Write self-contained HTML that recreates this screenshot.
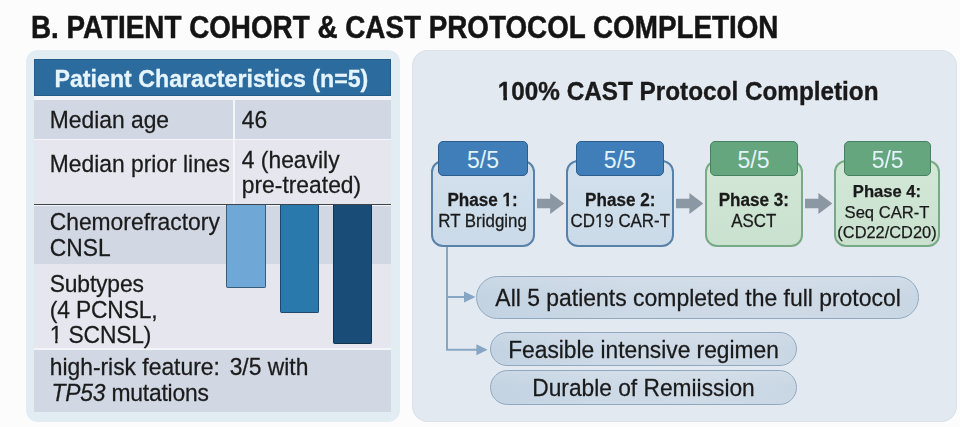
<!DOCTYPE html>
<html><head><meta charset="utf-8"><style>
html,body{margin:0;padding:0;}
body{width:960px;height:427px;overflow:hidden;position:relative;background:#fcfcfc;font-family:"Liberation Sans",sans-serif;}
.t{position:absolute;white-space:nowrap;-webkit-text-stroke:0.25px currentColor;}
.r{position:absolute;}
.o1,.o1b{display:inline-block;line-height:1em;}
.o1{clip-path:polygon(0 0,100% 0,100% 66%,62% 66%,62% 100%,44% 100%,44% 66%,0 66%);}
.o1b{clip-path:polygon(0 0,100% 0,100% 66%,67.5% 66%,67.5% 100%,41% 100%,41% 66%,0 66%);}
#w{position:absolute;left:0;top:0;width:960px;height:427px;filter:blur(0.4px);}
</style></head><body><div id="w">
<div class="t" style="left:31.1px;top:9.60px;font-size:30.5px;line-height:35.07px;font-weight:bold;color:#141414;transform:scaleX(0.912);transform-origin:0 0;white-space:nowrap;-webkit-text-stroke:0.5px #141414;">B. PATIENT COHORT &amp; CAST PROTOCOL COMPLETION</div>
<div class="r" style="left:26px;top:50px;width:373.5px;height:371.6px;background:#e2ecf3;border-radius:12px;"></div>
<div class="r" style="left:33.5px;top:59px;width:357.5px;height:353px;background:#f3f5f8;"></div>
<div class="r" style="left:33.5px;top:59px;width:357.5px;height:36.5px;background:#2c6b9e;box-shadow:inset 0 0 0 1px #245b8a;"></div>
<div class="t" style="left:54.5px;top:66.58px;font-size:23.2px;line-height:25.17px;font-weight:bold;color:#e6f4fb;transform:scaleY(1.06);transform-origin:50% 20.62px;-webkit-text-stroke:0.3px #e6f4fb;">Patient Characteristics (n=5)</div>
<div class="r" style="left:33.5px;top:100px;width:357.5px;height:39px;background:#d1d7e3;"></div>
<div class="r" style="left:33.5px;top:140px;width:357.5px;height:64px;background:#e6e6ef;"></div>
<div class="r" style="left:33.5px;top:205.5px;width:357.5px;height:58.5px;background:#d1d7e3;"></div>
<div class="r" style="left:33.5px;top:264px;width:357.5px;height:84px;background:#e6e6ef;"></div>
<div class="r" style="left:33.5px;top:349.5px;width:357.5px;height:62.5px;background:#d1d7e3;"></div>
<div class="r" style="left:233px;top:100px;width:2px;height:104px;background:#f3f5f8;"></div>
<div class="r" style="left:33.5px;top:203.8px;width:357.5px;height:1.6999999999999886px;background:#3f444c;"></div>
<div class="t" style="left:49.7px;top:107.85px;font-size:22.85px;line-height:25.269px;font-weight:normal;color:#1b1b1b;transform:scaleY(1.04);transform-origin:50% 20.55px;">Median age</div>
<div class="t" style="left:241.8px;top:107.85px;font-size:22.85px;line-height:25.269px;font-weight:normal;color:#1b1b1b;transform:scaleY(1.04);transform-origin:50% 20.55px;">46</div>
<div class="t" style="left:49.7px;top:152.05px;font-size:22.85px;line-height:25.269px;font-weight:normal;color:#1b1b1b;transform:scaleY(1.04);transform-origin:50% 20.55px;">Median prior lines</div>
<div class="t" style="left:241.8px;top:148.22px;font-size:22.85px;line-height:24.327px;font-weight:normal;color:#1b1b1b;transform:scaleY(1.04);transform-origin:50% 20.08px;">4 (heavily<br>pre-treated)</div>
<div class="t" style="left:49.7px;top:209.58px;font-size:22.85px;line-height:25.0px;font-weight:normal;color:#1b1b1b;transform:scaleY(1.04);transform-origin:50% 20.42px;">Chemorefractory<br>CNSL</div>
<div class="t" style="left:49.7px;top:271.82px;font-size:22.85px;line-height:24.519px;font-weight:normal;color:#1b1b1b;transform:scaleY(1.04);transform-origin:50% 20.18px;letter-spacing:-0.15px;">Subtypes<br>(4 PCNSL,<br><span class="o1">1</span> SCNSL)</div>
<div class="t" style="left:49.7px;top:355.28px;font-size:22.85px;line-height:25.0px;font-weight:normal;color:#1b1b1b;transform:scaleY(1.04);transform-origin:50% 20.42px;">high-risk feature:<span style="display:inline-block;width:9.8px"></span>3/5 with<br><span style="margin-left:1.8px;letter-spacing:-0.2px"><i>TP53</i> mutations</span></div>
<div class="r" style="left:226.2px;top:205px;width:39.400000000000034px;height:82.80000000000001px;background:#6fa8d6;border:1.3px solid #395c7c;border-top:none;box-sizing:border-box;border-radius:0 0 2px 2px;"></div>
<div class="r" style="left:280px;top:205px;width:39px;height:108.30000000000001px;background:#2a79ac;border:1.3px solid #21486a;border-top:none;box-sizing:border-box;border-radius:0 0 2px 2px;"></div>
<div class="r" style="left:332.8px;top:205px;width:39.599999999999966px;height:138.5px;background:#194d77;border:1.3px solid #123452;border-top:none;box-sizing:border-box;border-radius:0 0 2px 2px;"></div>
<div class="r" style="left:412px;top:49.8px;width:545px;height:371.8px;background:#e3e9f1;border-radius:16px;box-shadow:inset 0 0 0 1px #dae2eb;"></div>
<div class="t" style="left:688.2px;top:78.76px;font-size:24.3px;line-height:26.244px;font-weight:bold;color:#1a1a1a;transform:scaleY(1.065);transform-origin:50% 21.54px;width:420px;margin-left:-210.0px;text-align:center;-webkit-text-stroke:0.35px #1a1a1a;"><span class="o1b">1</span>00% CAST Protocol Completion</div>
<div class="r" style="left:430.5px;top:160px;width:104.10000000000002px;height:87px;background:linear-gradient(#d3e1ed,#cadae8);border:2px solid #5882aa;border-radius:12px;box-sizing:border-box;"></div>
<div class="r" style="left:438.3px;top:141.3px;width:89.40000000000003px;height:34.39999999999998px;background:#3f7eb9;border:1.8px solid #2b5e8d;border-radius:5px;box-sizing:border-box;"></div>
<div class="t" style="left:483.0px;top:147.01px;font-size:23px;line-height:26.45px;font-weight:normal;color:#e2f2f9;width:90px;margin-left:-45.0px;text-align:center;-webkit-text-stroke:0;">5/5</div>
<div class="t" style="left:482.55px;top:191.60px;font-size:17.1px;line-height:18.547px;font-weight:bold;color:#1a1a1a;transform:scaleY(1.06);transform-origin:50% 15.20px;width:120px;margin-left:-60.0px;text-align:center;">Phase <span class="o1b">1</span>:</div>
<div class="t" style="left:482.55px;top:213.01px;font-size:16.9px;line-height:17.664px;font-weight:normal;color:#1a1a1a;transform:scaleY(1.1);transform-origin:50% 14.69px;width:120px;margin-left:-60.0px;text-align:center;">RT Bridging</div>
<div class="r" style="left:566.4px;top:160px;width:107.70000000000005px;height:87px;background:linear-gradient(#d3e1ed,#cadae8);border:2px solid #5882aa;border-radius:12px;box-sizing:border-box;"></div>
<div class="r" style="left:575.7px;top:141.3px;width:88.29999999999995px;height:34.39999999999998px;background:#3f7eb9;border:1.8px solid #2b5e8d;border-radius:5px;box-sizing:border-box;"></div>
<div class="t" style="left:619.85px;top:147.01px;font-size:23px;line-height:26.45px;font-weight:normal;color:#e2f2f9;width:90px;margin-left:-45.0px;text-align:center;-webkit-text-stroke:0;">5/5</div>
<div class="t" style="left:620.25px;top:191.60px;font-size:17.1px;line-height:18.547px;font-weight:bold;color:#1a1a1a;transform:scaleY(1.06);transform-origin:50% 15.20px;width:120px;margin-left:-60.0px;text-align:center;">Phase 2:</div>
<div class="t" style="left:620.25px;top:213.01px;font-size:16.9px;line-height:17.664px;font-weight:normal;color:#1a1a1a;transform:scaleY(1.1);transform-origin:50% 14.69px;width:120px;margin-left:-60.0px;text-align:center;">CD<span class="o1">1</span>9 CAR-T</div>
<div class="r" style="left:704.7px;top:160px;width:98.19999999999993px;height:87px;background:linear-gradient(#d3e8d7,#cae1cf);border:2px solid #78ab85;border-radius:12px;box-sizing:border-box;"></div>
<div class="r" style="left:709.5px;top:141.3px;width:88.0px;height:34.39999999999998px;background:#65a67f;border:1.8px solid #46825f;border-radius:5px;box-sizing:border-box;"></div>
<div class="t" style="left:753.5px;top:147.01px;font-size:23px;line-height:26.45px;font-weight:normal;color:#e2f2f9;width:90px;margin-left:-45.0px;text-align:center;-webkit-text-stroke:0;">5/5</div>
<div class="t" style="left:753.8px;top:191.60px;font-size:17.1px;line-height:18.547px;font-weight:bold;color:#1a1a1a;transform:scaleY(1.06);transform-origin:50% 15.20px;width:120px;margin-left:-60.0px;text-align:center;">Phase 3:</div>
<div class="t" style="left:753.8px;top:213.01px;font-size:16.9px;line-height:17.664px;font-weight:normal;color:#1a1a1a;transform:scaleY(1.1);transform-origin:50% 14.69px;width:120px;margin-left:-60.0px;text-align:center;">ASCT</div>
<div class="r" style="left:834.0px;top:160px;width:106.0px;height:87px;background:linear-gradient(#d3e8d7,#cae1cf);border:2px solid #78ab85;border-radius:12px;box-sizing:border-box;"></div>
<div class="r" style="left:844.0px;top:141.3px;width:87.39999999999998px;height:34.39999999999998px;background:#65a67f;border:1.8px solid #46825f;border-radius:5px;box-sizing:border-box;"></div>
<div class="t" style="left:887.7px;top:147.01px;font-size:23px;line-height:26.45px;font-weight:normal;color:#e2f2f9;width:90px;margin-left:-45.0px;text-align:center;-webkit-text-stroke:0;">5/5</div>
<div class="t" style="left:887.0px;top:182.20px;font-size:16.6px;line-height:19.09px;font-weight:bold;color:#1a1a1a;width:120px;margin-left:-60.0px;text-align:center;">Phase 4:</div>
<div class="t" style="left:887.0px;top:202.90px;font-size:16.6px;line-height:19.09px;font-weight:normal;color:#1a1a1a;width:120px;margin-left:-60.0px;text-align:center;">Seq CAR-T</div>
<div class="t" style="left:887.0px;top:222.89px;font-size:16.4px;line-height:18.86px;font-weight:normal;color:#1a1a1a;width:120px;margin-left:-60.0px;text-align:center;">(CD22/CD20)</div>
<svg class="r" style="left:537.4px;top:192.8px" width="27.200000000000045" height="21" viewBox="0 0 27.200000000000045 21"><path d="M0 5.75 H13.200000000000045 V0 L27.200000000000045 10.5 L13.200000000000045 21 V15.25 H0 Z" fill="#8b97a2"/></svg>
<svg class="r" style="left:676px;top:192.8px" width="27.399999999999977" height="21" viewBox="0 0 27.399999999999977 21"><path d="M0 5.75 H13.399999999999977 V0 L27.399999999999977 10.5 L13.399999999999977 21 V15.25 H0 Z" fill="#8b97a2"/></svg>
<svg class="r" style="left:805px;top:192.8px" width="27.399999999999977" height="21" viewBox="0 0 27.399999999999977 21"><path d="M0 5.75 H13.399999999999977 V0 L27.399999999999977 10.5 L13.399999999999977 21 V15.25 H0 Z" fill="#8b97a2"/></svg>
<svg class="r" style="left:0;top:0" width="960" height="427" viewBox="0 0 960 427">
<path d="M447 247 V349.7 H478" fill="none" stroke="#86a6c3" stroke-width="2"/>
<path d="M447 297 H466" fill="none" stroke="#86a6c3" stroke-width="2"/>
<path d="M464 291.5 L475.5 297 L464 302.5 Z" fill="#86a6c3"/>
<path d="M476.4 344.2 L487.6 349.7 L476.4 355.2 Z" fill="#86a6c3"/>
</svg>
<div class="r" style="left:475.7px;top:275.6px;width:443.3px;height:43.799999999999955px;background:linear-gradient(180deg,rgba(255,255,255,0.12),rgba(255,255,255,0) 50%),linear-gradient(90deg,#c3d3e2,#ccd9e6 35%,#cedae6 70%,#c9d7e4);border:1.8px solid #90a9bf;box-sizing:border-box;border-radius:30px;"></div>
<div class="r" style="left:489.7px;top:331.7px;width:306.90000000000003px;height:34.0px;background:linear-gradient(180deg,rgba(255,255,255,0.12),rgba(255,255,255,0) 50%),linear-gradient(90deg,#c3d3e2,#ccd9e6 35%,#cedae6 70%,#c9d7e4);border:1.8px solid #90a9bf;box-sizing:border-box;border-radius:30px;"></div>
<div class="r" style="left:489.7px;top:370.4px;width:307.3px;height:34.400000000000034px;background:linear-gradient(180deg,rgba(255,255,255,0.12),rgba(255,255,255,0) 50%),linear-gradient(90deg,#c3d3e2,#ccd9e6 35%,#cedae6 70%,#c9d7e4);border:1.8px solid #90a9bf;box-sizing:border-box;border-radius:30px;"></div>
<div class="t" style="left:698.1px;top:286.34px;font-size:22.94px;line-height:24.426px;font-weight:normal;color:#1a1a1a;transform:scaleY(1.08);transform-origin:50% 20.16px;width:460px;margin-left:-230.0px;text-align:center;">All 5 patients completed the full protocol</div>
<div class="t" style="left:643.5px;top:337.80px;font-size:22.76px;line-height:24.231px;font-weight:normal;color:#1a1a1a;transform:scaleY(1.08);transform-origin:50% 20.00px;width:320px;margin-left:-160.0px;text-align:center;">Feasible intensive regimen</div>
<div class="t" style="left:643.5px;top:376.41px;font-size:22.75px;line-height:24.222px;font-weight:normal;color:#1a1a1a;transform:scaleY(1.08);transform-origin:50% 19.99px;width:320px;margin-left:-160.0px;text-align:center;">Durable of Remiission</div>
</div></body></html>
